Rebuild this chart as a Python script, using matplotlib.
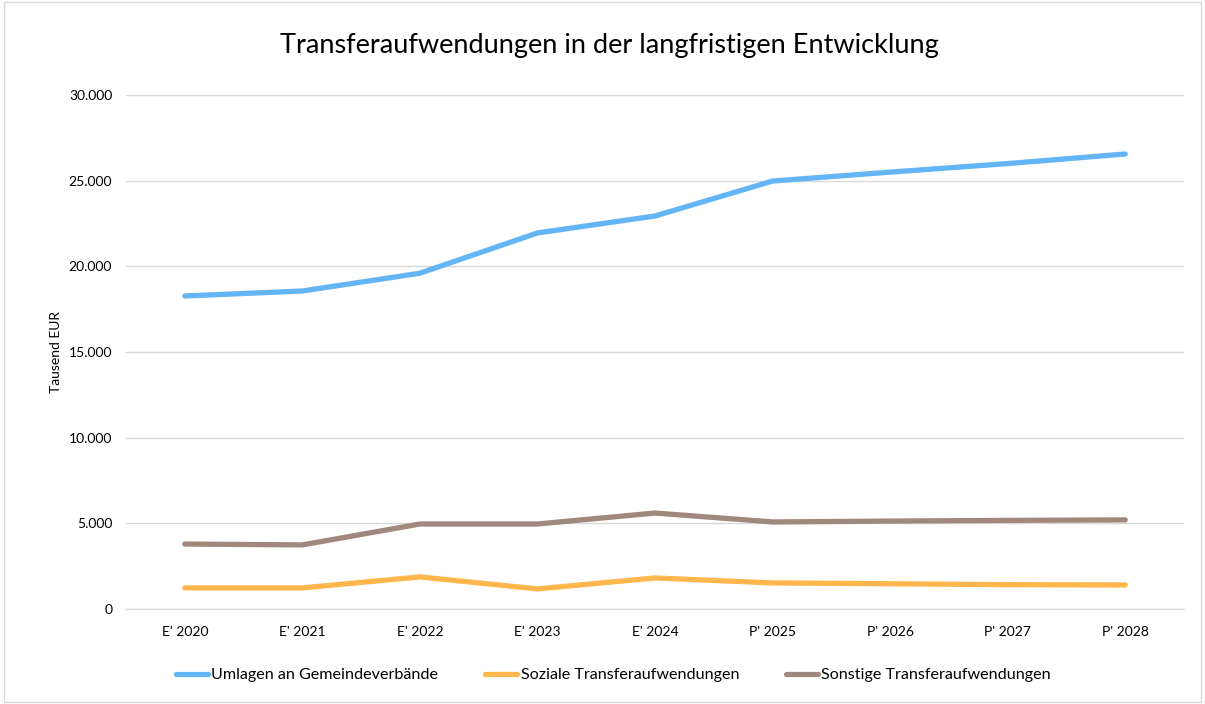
import matplotlib.pyplot as plt
from matplotlib.patches import Rectangle
from matplotlib.ticker import FuncFormatter

plt.rcParams['font.family'] = ['Lato', 'DejaVu Sans']

jahre = ["E' 2020", "E' 2021", "E' 2022", "E' 2023", "E' 2024",
         "P' 2025", "P' 2026", "P' 2027", "P' 2028"]
umlagen = [18270, 18560, 19600, 21950, 22940, 24980, 25500, 26000, 26560]
soziale = [1230, 1230, 1870, 1170, 1810, 1520, 1470, 1420, 1400]
sonstige = [3790, 3740, 4960, 4960, 5600, 5080, 5130, 5170, 5200]

fig = plt.figure(figsize=(12.05, 7.04), dpi=100)
ax = fig.add_axes([0.1046, 0.135, 0.878, 0.730])

x = range(len(jahre))
ax.plot(x, umlagen, color="#64B5F6", linewidth=3.8, label="Umlagen an Gemeindeverbände",
        solid_capstyle="round", solid_joinstyle="round")
ax.plot(x, soziale, color="#FFB74D", linewidth=3.8, label="Soziale Transferaufwendungen",
        solid_capstyle="round", solid_joinstyle="round")
ax.plot(x, sonstige, color="#A1887F", linewidth=3.8, label="Sonstige Transferaufwendungen",
        solid_capstyle="round", solid_joinstyle="round")

ax.set_xlim(-0.5, len(jahre) - 0.5)
ax.set_ylim(0, 30000)
ax.set_yticks(range(0, 30001, 5000))
ax.yaxis.set_major_formatter(FuncFormatter(lambda v, p: "0" if v == 0 else f"{int(v):,}".replace(",", ".")))
ax.set_xticks(list(x))
ax.set_xticklabels(jahre)
ax.tick_params(length=0, labelsize=10, colors="#000000", pad=12)
ax.tick_params(axis="y", pad=10)
ax.grid(axis="y", color="#D9D9D9", linewidth=1)
ax.set_axisbelow(True)
for s in ["top", "right", "left"]:
    ax.spines[s].set_visible(False)
ax.spines["bottom"].set_color("#D9D9D9")

ax.set_ylabel("Tausend EUR", fontsize=10, labelpad=5)
fig.text(0.506, 0.935, "Transferaufwendungen in der langfristigen Entwicklung",
         ha="center", va="center", fontsize=19.5)

fig.legend(loc="center", bbox_to_anchor=(0.509, 0.041), ncol=3, frameon=False,
           fontsize=11.6, handlelength=2.0, columnspacing=2.9, handletextpad=0.2)

fig.patches.append(Rectangle((0.003, 0.003), 0.994, 0.994, transform=fig.transFigure,
                             fill=False, edgecolor="#D9D9D9", linewidth=1))

plt.savefig("out.png", dpi=100)
